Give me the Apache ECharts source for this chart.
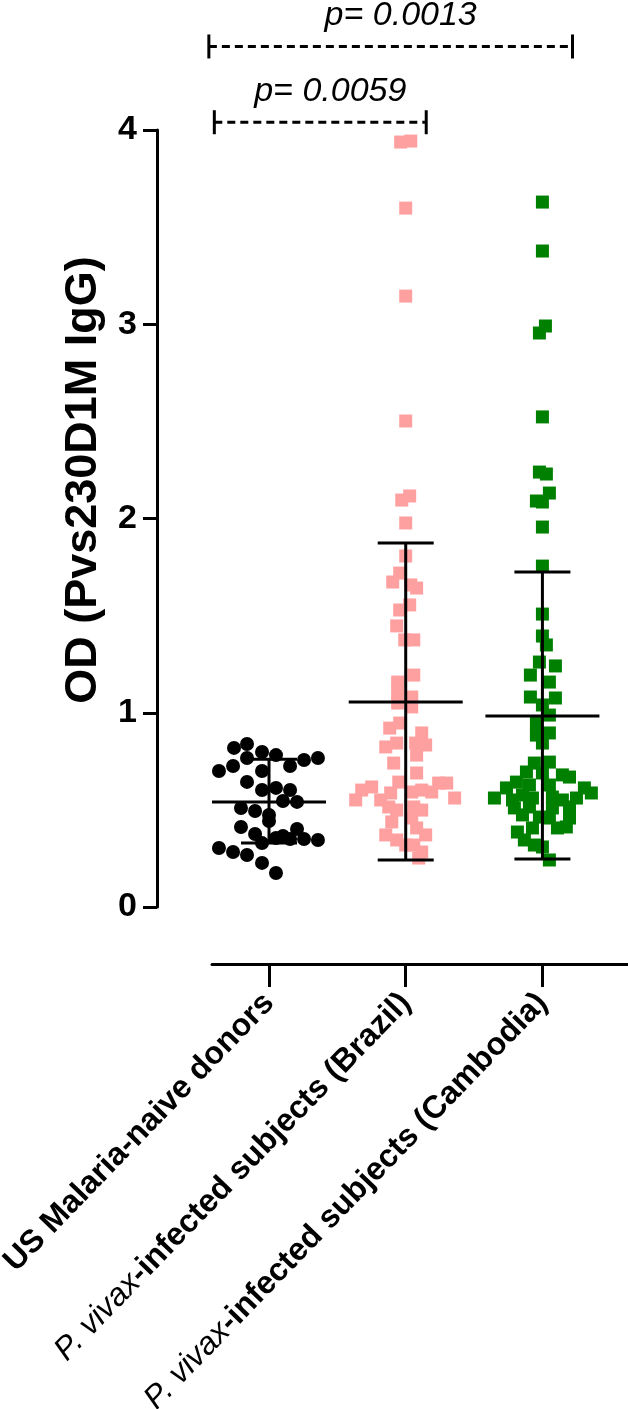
<!DOCTYPE html>
<html><head><meta charset="utf-8">
<script src="https://cdn.jsdelivr.net/npm/echarts@6/dist/echarts.min.js"></script>
<style>html,body{margin:0;padding:0;background:#fff}#c{width:628px;height:1409px}</style>
</head><body><div id="c"></div>
<script>
const FONT = '"Liberation Sans", Arial, sans-serif';
const categories = ['US Malaria-naive donors', 'P. vivax-infected subjects (Brazil)', 'P. vivax-infected subjects (Cambodia)'];
const yTicks = [0, 1, 2, 3, 4];
const yTitle = 'OD (Pvs230D1M IgG)';

// Group 1: US Malaria-naive donors (value, horizontal jitter in category units)
const usValues  = [0.839,0.819,0.798,0.782,0.767,0.757,0.767,0.700,0.726,0.700,0.726,0.644,0.602,0.613,0.602,0.546,0.541,0.510,0.494,0.474,0.443,0.412,0.376,0.402,0.366,0.355,0.350,0.329,0.350,0.345,0.304,0.283,0.268,0.227,0.175];
const usOffsets = [-0.161,-0.256,-0.051,0.051,-0.161,0.256,0.358,-0.366,-0.263,-0.051,0.154,-0.161,-0.051,0.051,0.154,0.102,0.205,-0.205,-0.102,0,0,-0.205,-0.102,0.205,0.102,0.051,0.154,-0.051,0.256,0.358,-0.366,-0.263,-0.161,-0.051,0.051];

// Group 2: P. vivax Brazil
const brValues  = [3.938,3.943,3.598,3.145,2.502,2.095,2.116,1.977,1.807,1.719,1.673,1.658,1.642,1.555,1.529,1.447,1.375,1.375,1.194,1.158,1.102,1.081,1.050,1.030,0.947,0.921,0.896,0.824,0.844,0.844,0.834,0.741,0.782,0.690,0.643,0.618,0.602,0.551,0.551,0.587,0.592,0.602,0.592,0.638,0.638,0.561,0.515,0.499,0.515,0.499,0.438,0.458,0.407,0.371,0.371,0.345,0.319,0.319,0.283,0.252];
const brOffsets = [-0.037,0.037,0,0,0,-0.029,0.029,0,0,-0.044,-0.095,0.037,0.080,0.029,-0.044,-0.066,-0.007,0.059,0.059,-0.059,-0.059,0.044,-0.059,0.044,-0.044,-0.117,0.117,-0.146,-0.066,0.073,0.146,-0.088,0.080,0.080,-0.051,-0.249,-0.322,-0.366,-0.183,-0.110,0.044,0.117,0.190,0.241,0.300,0.358,-0.124,-0.066,0.059,0.117,-0.102,0.044,0.080,0.146,-0.146,-0.066,0,0.059,0.117,0.095];

// Group 3: P. vivax Cambodia
const caValues  = [3.629,3.377,2.991,2.955,2.523,2.239,2.229,2.131,2.090,2.085,1.956,1.755,1.508,1.395,1.349,1.261,1.241,1.194,1.158,1.081,1.076,1.040,0.988,0.947,0.896,0.885,0.844,0.746,0.741,0.695,0.690,0.680,0.669,0.643,0.628,0.628,0.613,0.613,0.587,0.561,0.551,0.577,0.561,0.566,0.551,0.561,0.510,0.515,0.510,0.515,0.474,0.463,0.458,0.458,0.407,0.407,0.412,0.386,0.345,0.319,0.309,0.242];
const caOffsets = [0,0,0.022,-0.022,0,-0.022,0.029,0.051,-0.044,0,0,0,0,0,0.029,-0.022,0.095,-0.088,0.051,-0.088,0.095,0,0.051,-0.044,0.051,-0.044,0,0.051,-0.059,-0.117,0,0.146,0.198,-0.190,-0.095,0.051,-0.263,0.307,0.358,-0.351,-0.219,-0.146,-0.073,0.073,0.146,0.249,-0.205,-0.095,0.073,0.198,-0.146,-0.022,0.051,0.198,-0.073,0.110,0.175,-0.183,-0.132,-0.059,0,0.051];

// Mean and SD bars
const means  = [0.540, 1.055, 0.983];
const sdLow  = [0.330, 0.242, 0.247];
const sdHigh = [0.760, 1.874, 1.725];

// Significance brackets
const pLabels  = ['p= 0.0059', 'p= 0.0013'];
const pStart   = [-0.40, -0.44];
const pEnd     = [1.15, 2.22];
const pLevel   = [4.04, 4.43];

function pts(values, offsets, g) { return values.map((v, i) => [g + offsets[i], v]); }

const chart = echarts.init(document.getElementById('c'), null, {renderer: 'canvas'});
const BLACK = '#000';
const LW = 3;

chart.setOption({
  animation: false,
  backgroundColor: '#fff',
  grid: {left: 212, right: 0, top: 130, bottom: 502, containLabel: false, outerBoundsMode: 'none'},
  graphic: [{
    type: 'text', x: 84, y: 480, rotation: Math.PI / 2,
    style: {text: yTitle, fontSize: 45, fontWeight: 'bold', fontFamily: FONT, fill: BLACK,
      align: 'center', verticalAlign: 'middle', textAlign: 'center', textVerticalAlign: 'middle'}
  }],
  xAxis: {
    type: 'value', min: -0.417, max: 2.626, offset: 57,
    splitLine: {show: false},
    axisLine: {show: true, onZero: false, lineStyle: {color: BLACK, width: LW}},
    axisTick: {show: true, length: 23, customValues: [0, 1, 2], lineStyle: {color: BLACK, width: LW}},
    axisLabel: {
      customValues: [0, 1, 2], rotate: 46, margin: 34, color: BLACK,
      formatter: function (v) {
        const i = Math.round(v);
        if (i === 0) return '{b|' + categories[0] + '}';
        return '{i|P. vivax}{b|' + categories[i].slice(8) + '}';
      },
      rich: {
        b: {fontWeight: 'bold', fontSize: 32, fontFamily: FONT, color: BLACK},
        i: {fontStyle: 'italic', fontWeight: 'normal', fontSize: 32, fontFamily: FONT, color: BLACK}
      }
    }
  },
  yAxis: {
    type: 'value', min: 0, max: 4, interval: 1, offset: 55,
    splitLine: {show: false},
    axisLine: {show: true, onZero: false, lineStyle: {color: BLACK, width: LW}},
    axisTick: {show: true, length: 14, lineStyle: {color: BLACK, width: LW}},
    axisLabel: {fontSize: 34, fontWeight: 'bold', fontFamily: FONT, color: BLACK, margin: 20,
      formatter: v => String(yTicks[Math.round(v)])}
  },
  series: [
    {type: 'scatter', data: pts(usValues, usOffsets, 0), symbol: 'circle', symbolSize: 14,
      itemStyle: {color: '#000', opacity: 1}, z: 2},
    {type: 'scatter', data: pts(brValues, brOffsets, 1), symbol: 'rect', symbolSize: 13,
      itemStyle: {color: '#FFA0A0', opacity: 1}, z: 2},
    {type: 'scatter', data: pts(caValues, caOffsets, 2), symbol: 'rect', symbolSize: 13,
      itemStyle: {color: '#008000', opacity: 1}, z: 2},
    {type: 'custom', z: 5, clip: false,
      data: means.map((m, i) => [i, m, sdLow[i], sdHigh[i]]),
      renderItem: function (params, api) {
        const x = api.value(0);
        const m = api.coord([x, api.value(1)]);
        const lo = api.coord([x, api.value(2)]);
        const hi = api.coord([x, api.value(3)]);
        const st = {stroke: BLACK, lineWidth: LW};
        return {type: 'group', children: [
          {type: 'line', shape: {x1: m[0], y1: hi[1], x2: m[0], y2: lo[1]}, style: st},
          {type: 'line', shape: {x1: m[0] - 57, y1: m[1], x2: m[0] + 57, y2: m[1]}, style: st},
          {type: 'line', shape: {x1: m[0] - 28, y1: hi[1], x2: m[0] + 28, y2: hi[1]}, style: st},
          {type: 'line', shape: {x1: m[0] - 28, y1: lo[1], x2: m[0] + 28, y2: lo[1]}, style: st}
        ]};
      }
    },
    {type: 'custom', z: 5, clip: false,
      data: pLabels.map((t, i) => [pStart[i], pEnd[i], pLevel[i]]),
      renderItem: function (params, api) {
        const a = api.coord([api.value(0), api.value(2)]);
        const b = api.coord([api.value(1), api.value(2)]);
        const st = {stroke: BLACK, lineWidth: LW};
        return {type: 'group', children: [
          {type: 'line', shape: {x1: a[0], y1: a[1], x2: b[0], y2: b[1]}, style: {stroke: BLACK, lineWidth: LW, lineDash: [8, 5]}},
          {type: 'line', shape: {x1: a[0], y1: a[1] - 12, x2: a[0], y2: a[1] + 12}, style: st},
          {type: 'line', shape: {x1: b[0], y1: b[1] - 12, x2: b[0], y2: b[1] + 12}, style: st},
          {type: 'text', style: {text: pLabels[params.dataIndex], x: (a[0] + b[0]) / 2 + 10, y: a[1] - 31,
            align: 'center', verticalAlign: 'middle', textAlign: 'center', textVerticalAlign: 'middle',
            fontSize: 34, fontStyle: 'italic', fontFamily: FONT, fill: BLACK}}
        ]};
      }
    }
  ]
});
</script>
</body></html>
